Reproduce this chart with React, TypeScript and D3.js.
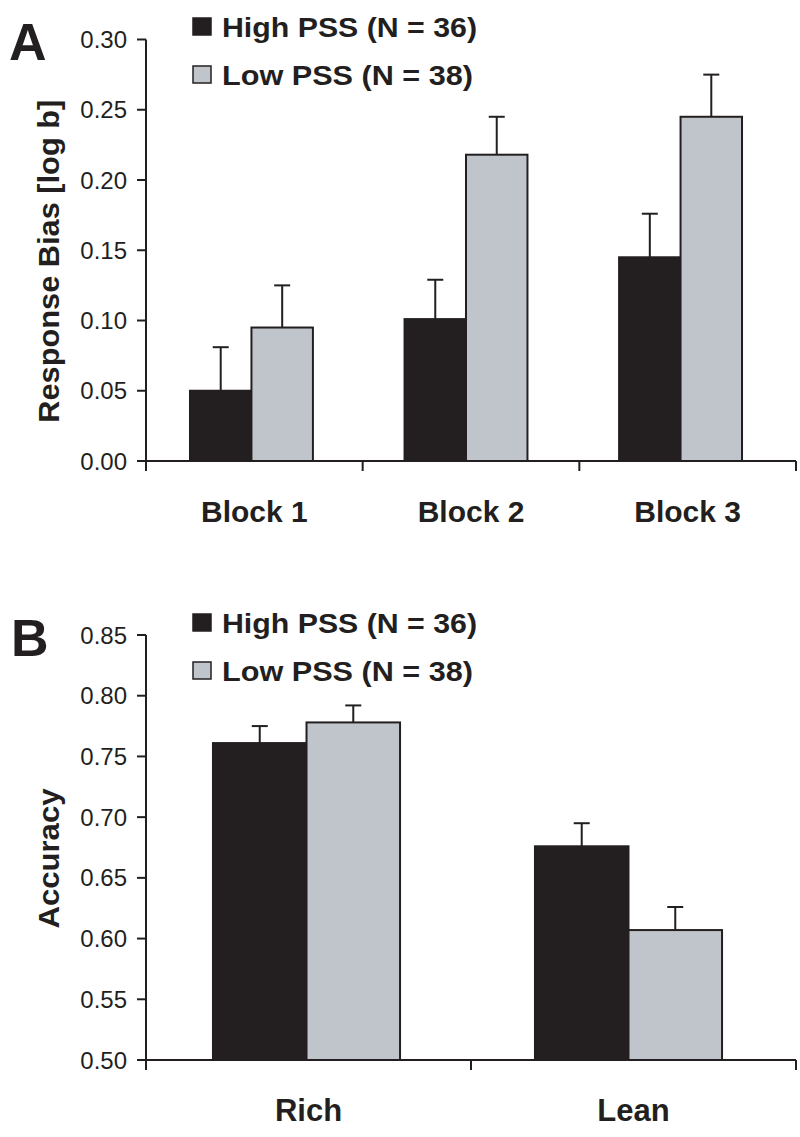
import React from "react";
import * as d3 from "d3";

const seriesNames = ["High PSS (N = 36)", "Low PSS (N = 38)"];
const seriesKeys = ["high", "low"];

const blockCategories = ["Block 1", "Block 2", "Block 3"];
const biasHigh = [0.05, 0.101, 0.145];
const biasHighErr = [0.031, 0.028, 0.031];
const biasLow = [0.095, 0.218, 0.245];
const biasLowErr = [0.030, 0.027, 0.030];
const biasTicks = [0, 0.05, 0.1, 0.15, 0.2, 0.25, 0.3];

const accCategories = ["Rich", "Lean"];
const accHigh = [0.761, 0.676];
const accHighErr = [0.014, 0.019];
const accLow = [0.778, 0.607];
const accLowErr = [0.014, 0.019];
const accTicks = [0.5, 0.55, 0.6, 0.65, 0.7, 0.75, 0.8, 0.85];

const DARK = "#231f20";
const GRAY = "#c0c5cb";
const FONT = "'Liberation Sans', Arial, Helvetica, sans-serif";

type PanelProps = {
  letter: string;
  letterX: number;
  letterY: number;
  yLabel: string;
  yLabelLen: number;
  categories: string[];
  high: number[];
  highErr: number[];
  low: number[];
  lowErr: number[];
  ticks: number[];
  domain: [number, number];
  yTop: number;
  yBottom: number;
  legendY: number;
  catFont: number;
  catBaseline: number;
  barEnd: number;
  padIn: number;
  padOut: number;
};

function Panel(p: PanelProps) {
  const x0 = 146;
  const x1 = 796;
  const y = d3.scaleLinear().domain(p.domain).range([p.yBottom, p.yTop]);
  const band = d3
    .scaleBand<string>()
    .domain(p.categories)
    .range([x0, p.barEnd])
    .paddingInner(p.padIn)
    .paddingOuter(p.padOut);
  const sub = d3.scaleBand<string>().domain(seriesKeys).range([0, band.bandwidth()]);
  const tickX = d3.scaleLinear().domain([0, p.categories.length]).range([x0, x1]);
  const boundaries = d3.range(p.categories.length + 1);
  const vals: Record<string, number[]> = { high: p.high, low: p.low };
  const errs: Record<string, number[]> = { high: p.highErr, low: p.lowErr };
  const fills: Record<string, string> = { high: DARK, low: GRAY };
  const fmt = d3.format(".2f");

  return (
    <g>
      <text x={p.letterX} y={p.letterY} fontFamily={FONT} fontWeight="bold" fontSize={52} fill={DARK}>
        {p.letter}
      </text>
      {/* legend */}
      {seriesKeys.map((k, i) => (
        <g key={k}>
          <rect
            x={193}
            y={p.legendY + i * 48 - 19}
            width={18}
            height={17}
            fill={fills[k]}
            stroke={DARK}
            strokeWidth={1.5}
          />
          <text
            x={222}
            y={p.legendY + i * 48}
            fontFamily={FONT}
            fontWeight="bold"
            fontSize={28}
            textLength={i === 0 ? 255 : 251}
            lengthAdjust="spacingAndGlyphs"
            fill={DARK}
          >
            {seriesNames[i]}
          </text>
        </g>
      ))}
      {/* bars */}
      {p.categories.map((c, ci) =>
        seriesKeys.map((k) => {
          const bx = (band(c) as number) + (sub(k) as number);
          const bw = sub.bandwidth();
          const v = vals[k][ci];
          const e = errs[k][ci];
          const cx = bx + bw / 2;
          return (
            <g key={c + k}>
              <line x1={cx} x2={cx} y1={y(v)} y2={y(v + e)} stroke={DARK} strokeWidth={2} />
              <line x1={cx - 8} x2={cx + 8} y1={y(v + e)} y2={y(v + e)} stroke={DARK} strokeWidth={2} />
              <rect
                x={bx}
                y={y(v)}
                width={bw}
                height={p.yBottom - y(v)}
                fill={fills[k]}
                stroke={DARK}
                strokeWidth={2}
              />
            </g>
          );
        })
      )}
      {/* y axis */}
      <line x1={x0} x2={x0} y1={p.yTop} y2={p.yBottom} stroke={DARK} strokeWidth={2} />
      {p.ticks.map((t) => (
        <g key={t}>
          <line x1={x0 - 9} x2={x0} y1={y(t)} y2={y(t)} stroke={DARK} strokeWidth={2} />
          <text
            x={127}
            y={y(t)}
            dy="0.36em"
            textAnchor="end"
            fontFamily={FONT}
            fontSize={24}
            fill={DARK}
          >
            {fmt(t)}
          </text>
        </g>
      ))}
      <text
        transform={`translate(59, ${(p.yTop + p.yBottom) / 2 + 11}) rotate(-90)`}
        textAnchor="middle"
        fontFamily={FONT}
        fontWeight="bold"
        fontSize={30}
        textLength={p.yLabelLen}
        lengthAdjust="spacingAndGlyphs"
        fill={DARK}
      >
        {p.yLabel}
      </text>
      {/* x axis */}
      <line x1={x0} x2={x1} y1={p.yBottom} y2={p.yBottom} stroke={DARK} strokeWidth={2} />
      {boundaries.map((b) => (
        <line key={b} x1={tickX(b)} x2={tickX(b)} y1={p.yBottom} y2={p.yBottom + 10} stroke={DARK} strokeWidth={2} />
      ))}
      {p.categories.map((c, ci) => (
        <text
          key={c}
          x={tickX(ci + 0.5)}
          y={p.catBaseline}
          textAnchor="middle"
          fontFamily={FONT}
          fontWeight="bold"
          fontSize={p.catFont}
          fill={DARK}
        >
          {c}
        </text>
      ))}
    </g>
  );
}

export default function App() {
  return (
    <svg
      width={800}
      height={1137}
      viewBox="0 0 800 1137"
      style={{ position: "absolute", left: 0, top: 0, background: "#fff" }}
    >
      <rect width={800} height={1137} fill="#fff" />
      <Panel
        letter="A"
        letterX={9}
        letterY={60}
        yLabel="Response Bias [log b]"
        yLabelLen={323}
        categories={blockCategories}
        high={biasHigh}
        highErr={biasHighErr}
        low={biasLow}
        lowErr={biasLowErr}
        ticks={biasTicks}
        domain={[0, 0.3]}
        yTop={39.5}
        yBottom={461}
        legendY={37}
        catFont={30}
        catBaseline={522}
        barEnd={786}
        padIn={0.427}
        padOut={0.205}
      />
      <Panel
        letter="B"
        letterX={11}
        letterY={656}
        yLabel="Accuracy"
        yLabelLen={140}
        categories={accCategories}
        high={accHigh}
        highErr={accHighErr}
        low={accLow}
        lowErr={accLowErr}
        ticks={accTicks}
        domain={[0.5, 0.85]}
        yTop={635}
        yBottom={1060}
        legendY={633}
        catFont={31}
        catBaseline={1121}
        barEnd={789}
        padIn={0.419}
        padOut={0.208}
      />
    </svg>
  );
}
